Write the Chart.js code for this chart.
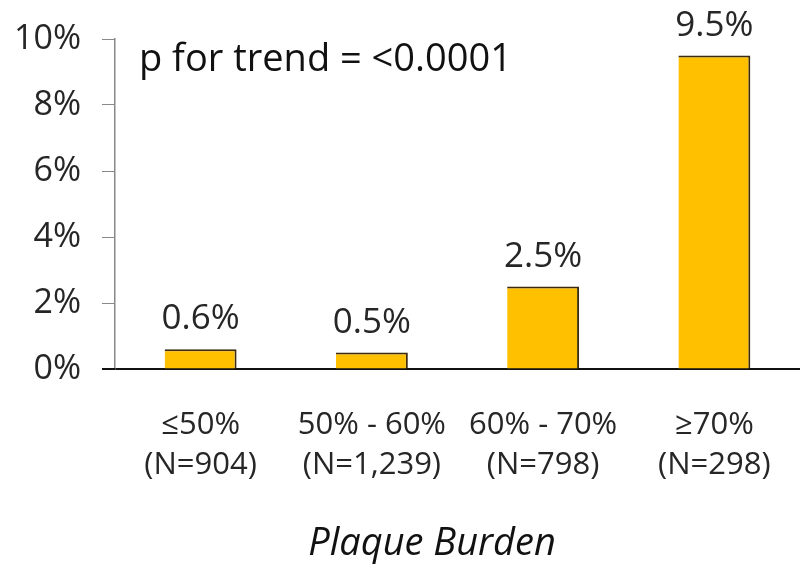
<!DOCTYPE html>
<html>
<head>
    <script src="https://cdn.jsdelivr.net/npm/chart.js@4.4.1/dist/chart.umd.min.js"></script>
    <style>
        body { margin: 0; background: #fff; }
        .chartBox { width: 800px; height: 566px; }
    </style>
</head>
<body>

<div class="chartBox">
    <canvas id="myChart"></canvas>
</div>

<script>
    // data
    const groups = ['≤50%', '50% - 60%', '60% - 70%', '≥70%'];
    const counts = ['(N=904)', '(N=1,239)', '(N=798)', '(N=298)'];
    const rates = [0.6, 0.5, 2.5, 9.5];
    const yTicks = [0, 2, 4, 6, 8, 10];
    const trendText = 'p for trend = <0.0001';
    const xTitle = 'Plaque Burden';

    Chart.defaults.font.family = "'Open Sans', sans-serif";
    Chart.defaults.color = '#262626';

    // percent labels above bars, the trend note and the axis caption
    const barLabels = {
        id: 'barLabels',
        afterDatasetsDraw(chart) {
            const ctx = chart.ctx;
            const meta = chart.getDatasetMeta(0);
            ctx.save();
            ctx.font = "35px 'Open Sans', sans-serif";
            ctx.fillStyle = '#262626';
            ctx.textAlign = 'center';
            ctx.textBaseline = 'alphabetic';
            meta.data.forEach(function(bar, i) {
                ctx.fillText(rates[i].toFixed(1) + '%', bar.x, bar.y - 20);
            });
            ctx.font = "38px 'Open Sans', sans-serif";
            ctx.fillStyle = '#111';
            ctx.textAlign = 'left';
            ctx.fillText(trendText, chart.chartArea.left + 24, chart.chartArea.top + 32);
            // caption sits a bit left of the plot centre in the original
            ctx.font = "italic 38px 'Open Sans', sans-serif";
            ctx.textAlign = 'center';
            ctx.textBaseline = 'middle';
            ctx.fillText(xTitle, 432, 544);
            // zero tick is dark like the base line
            const y0 = chart.scales.y.getPixelForValue(0);
            ctx.strokeStyle = '#111';
            ctx.lineWidth = 2;
            ctx.beginPath();
            ctx.moveTo(chart.chartArea.left - 13, y0);
            ctx.lineTo(chart.chartArea.left, y0);
            ctx.stroke();
            ctx.restore();
        }
    };

    const labels = groups.map(function(g, i) { return [g, counts[i]]; });

    const config = {
        type: 'bar',
        data: {
            labels: labels,
            datasets: [{
                data: rates,
                backgroundColor: '#FFC000',
                borderColor: '#3b2a0e',
                borderWidth: { top: 2, right: 2, left: 0, bottom: 0 },
                borderSkipped: false,
                categoryPercentage: 1,
                barPercentage: 0.42
            }]
        },
        options: {
            responsive: true,
            maintainAspectRatio: false,
            animation: false,
            layout: { padding: { top: 39, left: 0, right: -3, bottom: 0 } },
            plugins: {
                legend: { display: false },
                tooltip: { enabled: false }
            },
            scales: {
                x: {
                    grid: { display: false, drawTicks: false },
                    border: { display: true, color: '#111', width: 2 },
                    ticks: {
                        padding: 36,
                        color: '#262626',
                        font: { size: 31, lineHeight: 1.29 },
                        maxRotation: 0,
                        autoSkip: false
                    },
                    afterFit: function(scale) {
                        scale.height = 197;
                        scale.paddingLeft = 0;
                        scale.paddingRight = 0;
                    }
                },
                y: {
                    min: 0,
                    max: 10,
                    afterBuildTicks: function(scale) {
                        scale.ticks = yTicks.map(function(v) { return { value: v }; });
                    },
                    grid: {
                        display: true,
                        drawOnChartArea: false,
                        drawTicks: true,
                        tickLength: 13,
                        color: '#888'
                    },
                    border: { display: true, color: '#888', width: 1.5 },
                    ticks: {
                        padding: 21,
                        color: '#262626',
                        font: { size: 34 },
                        callback: function(v) { return v + '%'; }
                    },
                    afterFit: function(scale) {
                        scale.width = 115;
                        scale.paddingTop = 0;
                        scale.paddingBottom = 0;
                    }
                }
            }
        },
        plugins: [barLabels]
    };

    const myChart = new Chart(document.getElementById('myChart'), config);
</script>

</body>
</html>
